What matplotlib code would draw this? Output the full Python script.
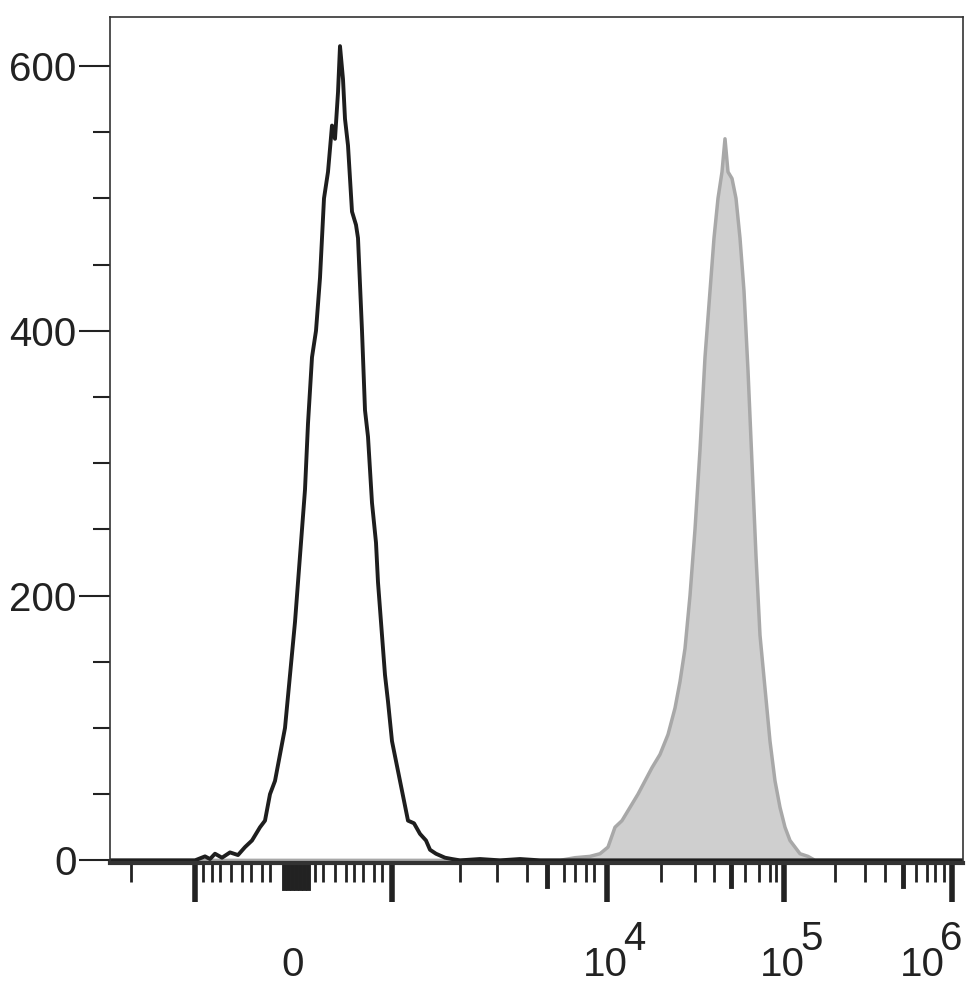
import matplotlib
matplotlib.use("Agg")
import matplotlib.pyplot as plt
import numpy as np
plt.rcParams['font.family'] = ['Liberation Sans', 'DejaVu Sans']

# x in display-channel units (biexponential axis, plotted linearly)
black_x = [110,195,205,210,215,222,230,238,245,252,260,265,270,275,280,285,290,295,300,305,308,312,316,320,324,328,332,335,338,340,343,345,348,352,356,358,362,365,368,372,376,378,382,385,388,392,396,400,404,408,414,420,426,430,436,445,452,460,480,500,520,540,560,963]
black_y = [0,0,3,1,5,2,6,4,10,15,25,30,50,60,80,100,140,180,230,280,330,380,400,440,500,520,555,545,580,615,590,560,540,490,480,470,400,340,320,270,240,210,170,140,120,90,75,60,45,30,28,20,15,8,5,2,1,0,1,0,1,0,0,0]
grey_x = [110,560,575,590,600,608,615,622,630,638,645,652,660,668,675,680,685,690,695,700,705,710,714,718,722,725,728,732,736,740,744,748,752,756,760,765,770,775,780,785,790,795,800,808,815,830,963]
grey_y = [0,0,2,3,5,10,25,30,40,50,60,70,80,95,115,135,160,200,250,310,380,430,470,500,520,545,520,515,500,470,430,370,300,230,170,130,90,60,40,25,15,10,5,3,0,0,0]

x_major = [195,392,607,784,952]
x_mid = [547,731,903]
x_minor = [131,203,212,220,231,242,251,262,270,315,323,335,346,354,363,374,382,460,497,527,564,575,586,594,661,695,714,745,759,770,776,835,865,885,916,927,935,944]
x_labels = {293:("0",""), 605:("10","4"), 782:("10","5"), 922:("10","6")}
y_major = [0,200,400,600]
y_minor = [50,100,150,250,300,350,450,500,550]

fig = plt.figure(figsize=(9.77,9.92), dpi=100)
ax = fig.add_axes([110/977, 1-863/992, 853/977, 846/992])
ax.fill_between(grey_x, grey_y, color="#cfcfcf", lw=0)
ax.plot(grey_x, grey_y, color="#a8a8a8", lw=2.5)
ax.plot(black_x, black_y, color="#1e1e1e", lw=2.8)
ax.set_xlim(110,963)
ax.set_ylim(-2,637)
for s in ax.spines.values():
    s.set_linewidth(1.2); s.set_color("#333333")
ax.spines["bottom"].set_linewidth(3)

ax.set_xticks(x_major)
ax.set_xticklabels([])
ax.tick_params(axis="x", which="major", length=28, width=4, color="#222222")
ax.set_xticks(x_minor, minor=True)
ax.tick_params(axis="x", which="minor", length=14, width=2, color="#222222")
for xm in x_mid:
    ax.plot([xm,xm],[0,-0.027],transform=ax.get_xaxis_transform(),color="#222222",lw=3.5,clip_on=False)
for xb in range(284,310,4):
    ax.plot([xb,xb],[0,-0.03],transform=ax.get_xaxis_transform(),color="#222222",lw=3.5,clip_on=False)
for xp, (base, sup) in x_labels.items():
    ax.text(xp, -0.12, base, transform=ax.get_xaxis_transform(), ha="center", va="center", fontsize=29, color="#222222")
    if sup:
        ax.text(xp+18, -0.09, sup, transform=ax.get_xaxis_transform(), ha="left", va="center", fontsize=29, color="#222222")

ax.set_yticks(y_major)
ax.set_yticklabels([str(v) for v in y_major], fontsize=29, color="#222222")
ax.set_yticks(y_minor, minor=True)
ax.tick_params(axis="y", which="major", length=22, width=1.5, pad=2, color="#222222")
ax.tick_params(axis="y", which="minor", length=12, width=1.5, color="#222222")
fig.savefig("out.png", dpi=100)
